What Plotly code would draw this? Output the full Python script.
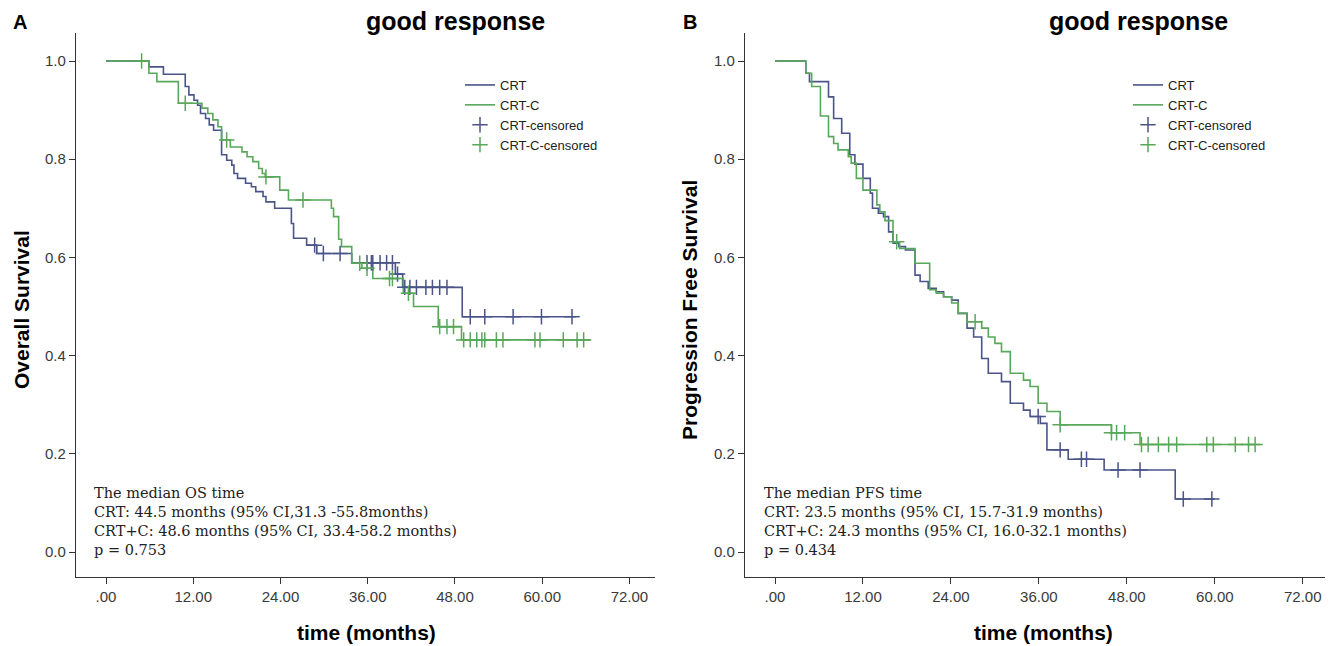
import plotly.graph_objects as go

# page body has an 8px default margin, so the figure is drawn 8px smaller and coordinates shifted
OFF = 8
W, H = 1333 - OFF, 646 - OFF

# ---------------- Panel A: Overall survival ----------------
os_crt_t = [0, 5.9, 7.9, 10.9, 11.4, 12.1, 12.6, 13.0, 13.7, 14.2, 14.8, 15.9, 16.6, 17.3, 17.6, 18.1, 19.2, 20.0, 20.6, 21.6, 22.0, 23.2, 25.5, 25.8, 27.6, 29.0, 33.8, 39.8, 40.8, 49.0, 64.6]
os_crt_s = [1.0, 0.988, 0.973, 0.948, 0.931, 0.920, 0.910, 0.893, 0.883, 0.870, 0.859, 0.809, 0.798, 0.788, 0.771, 0.761, 0.751, 0.744, 0.734, 0.724, 0.713, 0.700, 0.669, 0.639, 0.625, 0.608, 0.589, 0.566, 0.539, 0.479, 0.479]
os_crt_cens_t = [28.7, 29.9, 32.2, 35.9, 36.5, 36.7, 37.7, 38.6, 39.4, 40.1, 41.1, 41.8, 42.7, 44.0, 44.9, 45.9, 46.9, 50.1, 52.1, 56.0, 59.9, 64.1]
os_crt_cens_s = [0.625, 0.608, 0.608, 0.589, 0.589, 0.589, 0.589, 0.589, 0.589, 0.566, 0.539, 0.539, 0.539, 0.539, 0.539, 0.539, 0.539, 0.479, 0.479, 0.479, 0.479, 0.479]

os_crtc_t = [0, 5.9, 7.0, 9.95, 13.2, 14.0, 14.7, 15.4, 15.9, 17.1, 18.7, 19.4, 20.2, 21.0, 21.5, 21.9, 23.9, 25.1, 31.0, 31.3, 32.0, 32.4, 33.8, 35.2, 36.7, 40.9, 42.3, 45.7, 48.9, 66.6]
os_crtc_s = [1.0, 0.975, 0.958, 0.914, 0.904, 0.893, 0.880, 0.866, 0.839, 0.825, 0.815, 0.805, 0.795, 0.781, 0.771, 0.764, 0.737, 0.717, 0.700, 0.683, 0.637, 0.622, 0.588, 0.578, 0.557, 0.527, 0.500, 0.459, 0.432, 0.432]
os_crtc_cens_t = [4.9, 10.9, 16.6, 22.0, 27.1, 34.9, 35.9, 39.0, 39.4, 41.6, 45.9, 46.9, 47.8, 49.2, 50.1, 51.0, 51.7, 52.1, 53.7, 54.6, 59.0, 59.7, 62.9, 64.8, 65.7]
os_crtc_cens_s = [1.0, 0.914, 0.839, 0.764, 0.717, 0.588, 0.578, 0.557, 0.557, 0.527, 0.459, 0.459, 0.459, 0.432, 0.432, 0.432, 0.432, 0.432, 0.432, 0.432, 0.432, 0.432, 0.432, 0.432, 0.432]

# ---------------- Panel B: Progression free survival ----------------
pfs_crt_t = [0, 4.2, 4.7, 7.3, 8.0, 9.1, 10.2, 10.9, 12.0, 13.0, 13.3, 14.1, 14.8, 15.5, 16.1, 16.9, 17.8, 19.1, 19.8, 20.9, 22.0, 23.0, 24.1, 25.0, 26.2, 27.1, 28.2, 29.1, 30.9, 32.1, 33.9, 34.8, 36.2, 37.1, 40.0, 44.9, 54.6, 60.0]
pfs_crt_s = [1.0, 0.975, 0.958, 0.927, 0.883, 0.853, 0.809, 0.790, 0.761, 0.731, 0.700, 0.690, 0.683, 0.652, 0.629, 0.622, 0.615, 0.564, 0.551, 0.537, 0.530, 0.520, 0.513, 0.486, 0.456, 0.438, 0.394, 0.364, 0.347, 0.303, 0.289, 0.276, 0.262, 0.208, 0.189, 0.167, 0.108, 0.108]
pfs_crt_cens_t = [35.9, 38.9, 41.8, 42.5, 46.8, 49.8, 55.7, 59.6]
pfs_crt_cens_s = [0.276, 0.208, 0.189, 0.189, 0.167, 0.167, 0.108, 0.108]

pfs_crtc_t = [0, 4.2, 5.0, 6.2, 7.3, 8.0, 8.6, 10.0, 10.4, 11.1, 12.0, 13.9, 14.3, 15.0, 16.1, 17.0, 19.1, 21.1, 22.0, 23.0, 24.1, 25.0, 26.2, 28.2, 29.1, 30.0, 30.9, 32.1, 33.9, 34.8, 35.9, 37.1, 38.9, 45.9, 49.8, 66.2]
pfs_crtc_s = [1.0, 0.975, 0.948, 0.888, 0.846, 0.832, 0.819, 0.805, 0.792, 0.761, 0.737, 0.707, 0.693, 0.675, 0.632, 0.618, 0.588, 0.534, 0.527, 0.520, 0.507, 0.486, 0.469, 0.456, 0.438, 0.425, 0.408, 0.364, 0.350, 0.337, 0.303, 0.286, 0.259, 0.243, 0.219, 0.219]
pfs_crtc_cens_t = [16.6, 27.3, 38.9, 45.9, 46.6, 47.7, 50.0, 50.9, 52.3, 53.7, 54.8, 58.9, 59.8, 62.8, 64.6, 65.5]
pfs_crtc_cens_s = [0.632, 0.469, 0.259, 0.243, 0.243, 0.243, 0.219, 0.219, 0.219, 0.219, 0.219, 0.219, 0.219, 0.219, 0.219, 0.219]

x_ticks = [0, 12, 24, 36, 48, 60, 72]
x_tick_text = [".00", "12.00", "24.00", "36.00", "48.00", "60.00", "72.00"]
y_ticks = [0.0, 0.2, 0.4, 0.6, 0.8, 1.0]
y_tick_text = ["0.0", "0.2", "0.4", "0.6", "0.8", "1.0"]

legend_names = ["CRT", "CRT-C", "CRT-censored", "CRT-C-censored"]

BLUE = "#4a5488"
GREEN = "#58a85a"
AXC = "#333333"
TICKF = dict(family="Liberation Sans, Arial", size=15, color="#3a3a3a")


def px_x(p):
    return (p - OFF) / W


def px_y(p):
    return 1 - (p - OFF) / H


fig = go.Figure()


def add_panel(xa, ya, leg, t1, s1, c1t, c1s, t2, s2, c2t, c2s):
    fig.add_trace(go.Scatter(x=t1, y=s1, mode="lines", line=dict(color=BLUE, width=1.6, shape="hv"),
                             name=legend_names[0], xaxis=xa, yaxis=ya, legend=leg))
    fig.add_trace(go.Scatter(x=t2, y=s2, mode="lines", line=dict(color=GREEN, width=1.6, shape="hv"),
                             name=legend_names[1], xaxis=xa, yaxis=ya, legend=leg))
    fig.add_trace(go.Scatter(x=c1t, y=c1s, mode="markers",
                             marker=dict(symbol="cross-thin", size=11, line=dict(color=BLUE, width=1.5)),
                             name=legend_names[2], xaxis=xa, yaxis=ya, legend=leg))
    fig.add_trace(go.Scatter(x=c2t, y=c2s, mode="markers",
                             marker=dict(symbol="cross-thin", size=11, line=dict(color=GREEN, width=1.5)),
                             name=legend_names[3], xaxis=xa, yaxis=ya, legend=leg))


add_panel("x", "y", "legend", os_crt_t, os_crt_s, os_crt_cens_t, os_crt_cens_s,
          os_crtc_t, os_crtc_s, os_crtc_cens_t, os_crtc_cens_s)
add_panel("x2", "y2", "legend2", pfs_crt_t, pfs_crt_s, pfs_crt_cens_t, pfs_crt_cens_s,
          pfs_crtc_t, pfs_crtc_s, pfs_crtc_cens_t, pfs_crtc_cens_s)

xcommon = dict(showline=True, linecolor=AXC, linewidth=1.2, ticks="outside", ticklen=6, tickcolor=AXC,
               tickwidth=1.2, showgrid=False, zeroline=False, tickvals=x_ticks, ticktext=x_tick_text,
               tickfont=TICKF)
ycommon = dict(showline=True, linecolor=AXC, linewidth=1.2, ticks="outside", ticklen=6, tickcolor=AXC,
               tickwidth=1.2, showgrid=False, zeroline=False, tickvals=y_ticks, ticktext=y_tick_text,
               tickfont=TICKF, range=[-25 / 491, 519 / 491])

ydom = [px_y(577), px_y(33)]
LEGF = dict(family="Liberation Sans, Arial", size=13, color="#222")

fig.update_layout(
    width=W, height=H, margin=dict(l=0, r=0, t=0, b=0),
    plot_bgcolor="white", paper_bgcolor="white",
    xaxis=dict(domain=[px_x(76), px_x(655)], range=[-30 / 7.27, 549 / 7.27], anchor="y", **xcommon),
    yaxis=dict(domain=ydom, anchor="x", **ycommon),
    xaxis2=dict(domain=[px_x(745), px_x(1330)], range=[-30 / 7.33, 555 / 7.33], anchor="y2", **xcommon),
    yaxis2=dict(domain=ydom, anchor="x2", **ycommon),
    legend=dict(x=px_x(460), y=px_y(70), xanchor="left", yanchor="top", bgcolor="rgba(0,0,0,0)",
                font=LEGF, tracegroupgap=0),
    legend2=dict(x=px_x(1128), y=px_y(70), xanchor="left", yanchor="top", bgcolor="rgba(0,0,0,0)",
                 font=LEGF, tracegroupgap=0),
    showlegend=True,
)

BOLD = "Liberation Sans, Arial"
ann = []
# panel letters
ann.append(dict(x=px_x(11), y=px_y(22), text="<b>A</b>", xanchor="left", yanchor="middle",
                font=dict(family=BOLD, size=20, color="black")))
ann.append(dict(x=px_x(681), y=px_y(22), text="<b>B</b>", xanchor="left", yanchor="middle",
                font=dict(family=BOLD, size=20, color="black")))
# titles
for cx in (455, 1138):
    ann.append(dict(x=px_x(cx), y=px_y(21), text="<b>good response</b>", xanchor="center", yanchor="middle",
                    font=dict(family=BOLD, size=25, color="black")))
# x-axis titles
for cx in (366, 1043):
    ann.append(dict(x=px_x(cx), y=px_y(632), text="<b>time (months)</b>", xanchor="center", yanchor="middle",
                    font=dict(family=BOLD, size=21, color="black")))
# y-axis titles
ann.append(dict(x=px_x(21), y=px_y(310), text="<b>Overall Survival</b>", textangle=-90, xanchor="center",
                yanchor="middle", font=dict(family=BOLD, size=21, color="black")))
ann.append(dict(x=px_x(689), y=px_y(310), text="<b>Progression Free Survival</b>", textangle=-90,
                xanchor="center", yanchor="middle", font=dict(family=BOLD, size=21, color="black")))

note_a = ("The median OS time<br>CRT: 44.5 months (95% CI,31.3 -55.8months)<br>"
          "CRT+C: 48.6 months (95% CI, 33.4-58.2 months)<br>p = 0.753")
note_b = ("The median PFS time<br>CRT: 23.5 months (95% CI, 15.7-31.9 months)<br>"
          "CRT+C: 24.3 months (95% CI, 16.0-32.1 months)<br>p = 0.434")
for nx, txt in ((92, note_a), (762, note_b)):
    ann.append(dict(x=px_x(nx), y=px_y(483), text=txt, xanchor="left", yanchor="top", align="left",
                    font=dict(family="DejaVu Serif", size=14.5, color="#222")))

for a in ann:
    a.update(xref="paper", yref="paper", showarrow=False)
fig.update_layout(annotations=ann)

fig.write_html("out.html")
